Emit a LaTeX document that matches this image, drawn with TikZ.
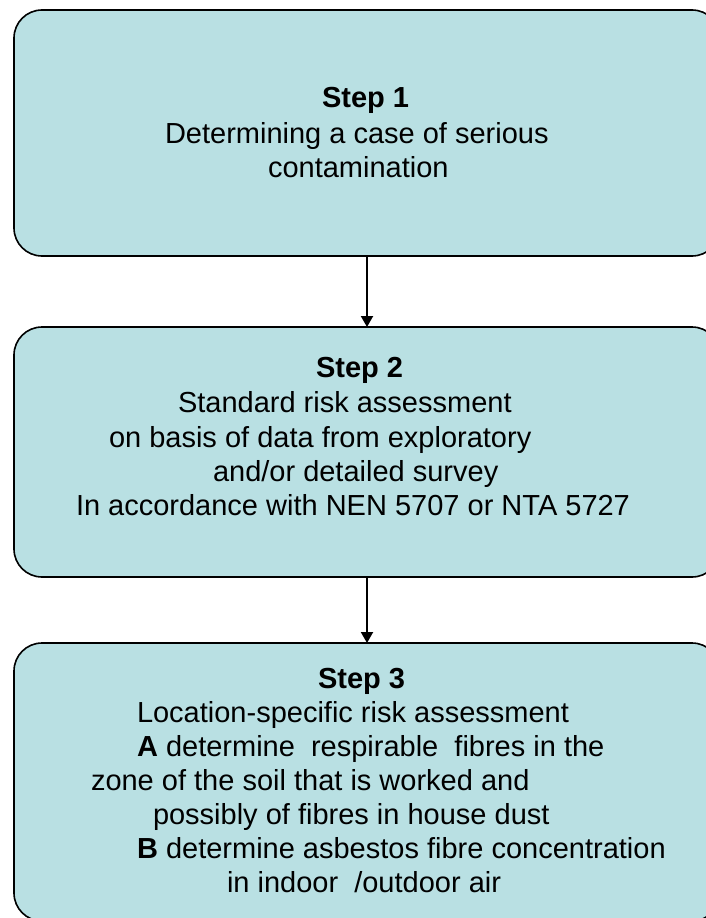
\documentclass[tikz,border=0pt]{standalone}
\usepackage{fontspec}
\setmainfont{Liberation Sans}
\usetikzlibrary{arrows.meta}
\definecolor{stepfill}{RGB}{185,224,227}
\begin{document}
\begin{tikzpicture}[x=1pt,y=-1pt,
  stepbox/.style={draw=black, line width=1.6pt, fill=stepfill,
    rounded corners=28pt, minimum width=706pt, inner sep=0pt, outer sep=0pt},
  txt/.style={anchor=base west, inner sep=0pt, outer sep=0pt,
    font=\fontsize{29}{35}\selectfont},
  flow/.style={line width=2pt, -{Triangle[width=12pt,length=11pt]}}]
\useasboundingbox (0,0) rectangle (706,918);
\begin{scope}
\clip (0,0) rectangle (706,918);
% the three step boxes
\node[stepbox, minimum height=246pt] (s1) at (367,133) {};
\node[stepbox, minimum height=250pt] (s2) at (367,452) {};
\node[stepbox, minimum height=278pt] (s3) at (367,782) {};
% connectors
\draw[flow] (s1.south) -- (s2.north);
\draw[flow] (s2.south) -- (s3.north);
% step 1 text
\node[txt] (t1a) at (322,107) {\textbf{Step 1}};
\node[txt] (t1b) at (165,143) {Determining a case of serious};
\node[txt] (t1c) at (268,177) {contamination};
% step 2 text
\node[txt] (t2a) at (316,377) {\textbf{Step 2}};
\node[txt] (t2b) at (178,412) {Standard risk assessment};
\node[txt] (t2c) at (109,447) {on basis of data from exploratory};
\node[txt] (t2d) at (213,481) {and/or detailed survey};
\node[txt] (t2e) at (76,515) {In accordance with NEN 5707 or NTA 5727};
% step 3 text
\node[txt] (t3a) at (318,688) {\textbf{Step 3}};
\node[txt] (t3b) at (137,722) {Location-specific risk assessment};
\node[txt] (t3c) at (137,756) {\textbf{A} determine\ \ respirable\ \ fibres in the};
\node[txt] (t3d) at (91,790) {zone of the soil that is worked and};
\node[txt] (t3e) at (153,824) {possibly of fibres in house dust};
\node[txt] (t3f) at (137,858) {\textbf{B} determine asbestos fibre concentration};
\node[txt] (t3g) at (227,892) {in indoor\ \ /outdoor air};
\end{scope}
\end{tikzpicture}
\end{document}
